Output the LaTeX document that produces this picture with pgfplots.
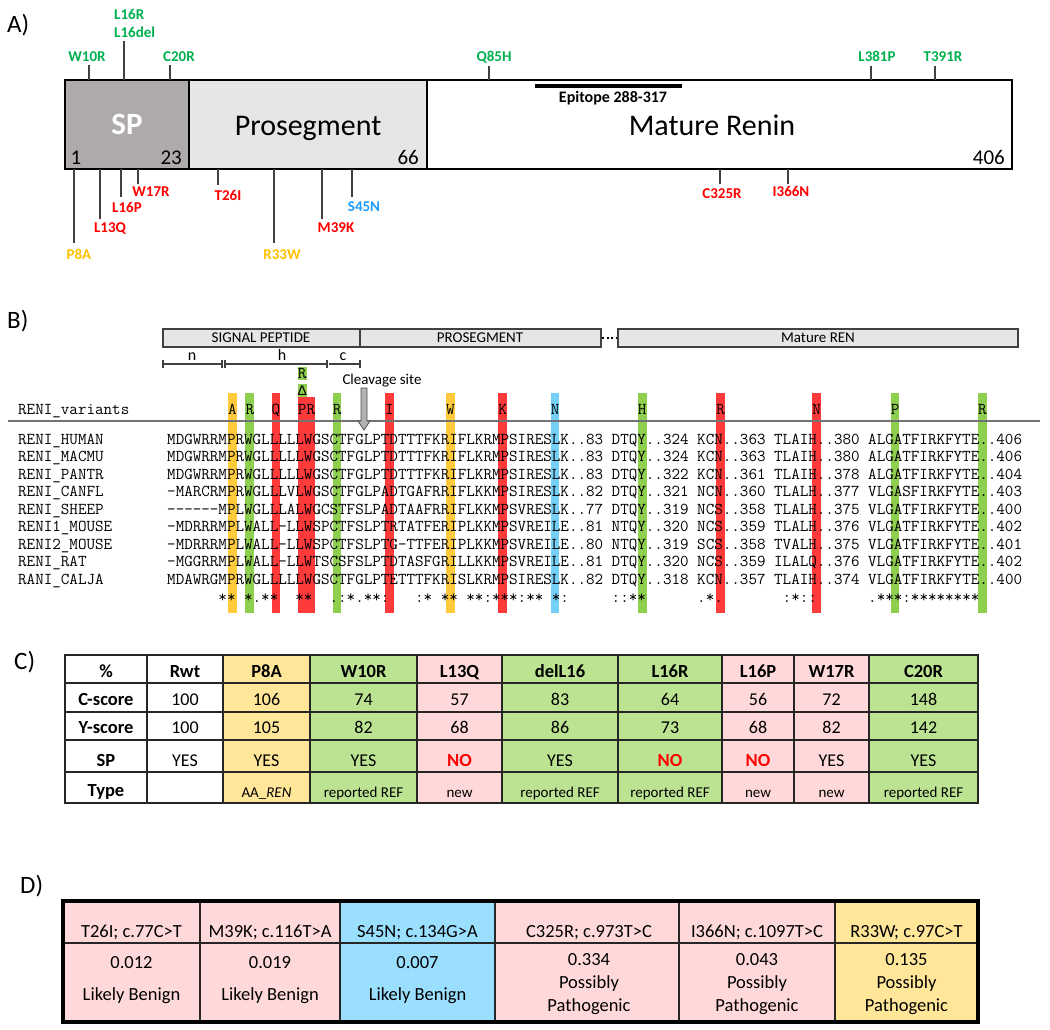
\documentclass[border=0pt]{standalone}
\usepackage{pgfplots}
\pgfplotsset{compat=1.18}
\usepackage{fontspec}
\setmainfont{Carlito}
\newfontfamily\monoL{Liberation Mono}
\newcommand{\mono}{\ttfamily\addfontfeatures{FakeBold=0.6}}
\definecolor{mgreen}{HTML}{00B050}
\definecolor{mred}{HTML}{FF0000}
\definecolor{morange}{HTML}{FFC000}
\definecolor{mblue}{HTML}{1E9BFF}
\definecolor{spgray}{HTML}{AEAAAA}
\definecolor{progray}{HTML}{E7E6E6}
\definecolor{hlor}{HTML}{FFCB3A}
\definecolor{hlgr}{HTML}{8FCF4F}
\definecolor{hlrd}{HTML}{FF3A3A}
\definecolor{hlbl}{HTML}{74D0F6}
\definecolor{cyel}{HTML}{FFE699}
\definecolor{cgrn}{HTML}{BBE391}
\definecolor{cpink}{HTML}{FFD9D9}
\definecolor{cblue}{HTML}{9BDFFF}
\newcommand{\fs}[1]{\fontsize{#1}{#1}\selectfont}
\newcommand{\ms}{16.6}
\newcommand{\dsh}{-\kern0pt}
\newcommand{\T}[5][]{\node[anchor=base,inner sep=0pt,font=\fs{#4},#1] at ({#2},{#3+0.322*#4}) {#5};}
\newcommand{\up}[2]{\draw[line width=1.3pt,black!75] (#1,#2)--(#1,80);}
\newcommand{\dn}[2]{\draw[line width=1.3pt,black!75] (#1,169)--(#1,#2);}
\newcommand{\hl}[3]{\fill[#2] ({167+#1*8.72},393) rectangle ({167+(#1+1)*8.72},613);
  \node[anchor=base,inner sep=0pt,font=\fs{\ms}\mono] at ({167+(#1+0.5)*8.72},414) {#3};}
\newcommand{\row}[3]{\node[anchor=base west,inner sep=0pt,font=\fs{\ms}\mono] at (18,{444+#1*17.5}) {#2};
  \node[anchor=base west,inner sep=0pt,font=\fs{\ms}\mono] at (167,{444+#1*17.5}) {#3};}
\begin{document}
\begin{tikzpicture}
\begin{axis}[scale only axis, width=1050pt, height=1029pt, xmin=0, xmax=1050, ymin=0, ymax=1029,
  y dir=reverse, hide axis, clip=false]
\path (0,0) rectangle (1050,1029);
% ---------------- Panel A
\T[anchor=base west]{7}{24}{25}{A)}
\draw[line width=2.5pt, fill=spgray] (65,80) rectangle (189,169);
\draw[line width=2.5pt, fill=progray] (189,80) rectangle (427,169);
\draw[line width=2.5pt, fill=white] (427,80) rectangle (1012,169);
\T[text=white]{127}{125}{31}{\bfseries SP}
\T{308}{126}{30}{Prosegment}
\T{712}{126}{30}{Mature Renin}
\T{76}{158}{21}{1}
\T[anchor=base east]{182}{158}{21}{23}
\T[anchor=base east]{419}{158}{21}{66}
\T[anchor=base east]{1005}{158}{21}{406}
\draw[line width=4pt] (535,86)--(682,86);
\T{613}{97}{16}{\bfseries Epitope 288-317}
\up{89}{65}\up{124}{41}\up{170}{65}\up{489}{66}\up{871}{66}\up{935}{66}
\T[text=mgreen]{87}{57}{15}{\bfseries W10R}
\T[text=mgreen,anchor=base west]{114}{14.5}{15}{\bfseries L16R}
\T[text=mgreen,anchor=base west]{114}{33}{15}{\bfseries L16del}
\T[text=mgreen]{179}{57}{15}{\bfseries C20R}
\T[text=mgreen]{494}{57}{15}{\bfseries Q85H}
\T[text=mgreen]{877}{57}{15}{\bfseries L381P}
\T[text=mgreen]{943}{57}{15}{\bfseries T391R}
\dn{74}{243}\dn{100}{219}\dn{121}{197}\dn{138}{184}\dn{218}{185}\dn{274}{243}\dn{322}{219}\dn{352}{197}\dn{720}{184}\dn{788}{184}
\T[text=morange]{79}{255}{15}{\bfseries P8A}
\T[text=mred]{110}{228}{15}{\bfseries L13Q}
\T[text=mred]{127}{208}{15}{\bfseries L16P}
\T[text=mred]{151}{192}{15}{\bfseries W17R}
\T[text=mred]{228}{196}{15}{\bfseries T26I}
\T[text=morange]{282}{255}{15}{\bfseries R33W}
\T[text=mred]{336}{228}{15}{\bfseries M39K}
\T[text=mblue]{364}{207}{15}{\bfseries S45N}
\T[text=mred]{722}{194}{15}{\bfseries C325R}
\T[text=mred]{791}{192}{15}{\bfseries I366N}
% ---------------- Panel B
\T[anchor=base west]{7}{320}{25}{B)}
\draw[line width=1.3pt, draw=black!75, fill=progray] (163,329) rectangle (360,347);
\draw[line width=1.3pt, draw=black!75, fill=progray] (360,329) rectangle (601,347);
\draw[line width=2pt, dash pattern=on 2pt off 2.5pt] (602,338)--(618,338);
\draw[line width=1.3pt, draw=black!75, fill=progray] (618,329) rectangle (1018,347);
\T{261}{338}{15}{SIGNAL PEPTIDE}
\T{480}{338}{15}{PROSEGMENT}
\T{818}{338}{15}{Mature REN}
\draw[line width=1.1pt, black!75] (163,364)--(222,364) (163,360)--(163,368) (222,360)--(222,368);
\draw[line width=1.1pt, black!75] (225,364)--(326,364) (225,360)--(225,368);
\draw[line width=2.5pt, black!75] (327,360)--(327,368);
\draw[line width=1.1pt, black!75] (329,364)--(360,364) (360,360)--(360,368);
\T{192}{355}{16}{n}
\T{282}{355}{16}{h}
\T{343}{355}{16}{c}
\T{382}{380}{15}{Cleavage site}
% highlights
\hl{7}{hlor}{A}
\hl{9}{hlgr}{R}
\hl{12}{hlrd}{Q}
\hl{19}{hlgr}{R}
\hl{25}{hlrd}{I}
\hl{32}{hlor}{W}
\hl{38}{hlrd}{K}
\hl{44}{hlbl}{N}
\hl{54}{hlgr}{H}
\hl{63}{hlrd}{R}
\hl{74}{hlrd}{N}
\hl{83}{hlgr}{P}
\hl{93}{hlgr}{R}
\fill[hlrd] ({167+15*8.72},397) rectangle ({167+17*8.72},613);
\node[anchor=base,inner sep=0pt,font=\fs{\ms}\mono] at ({167+16*8.72},414) {PR};
\fill[hlgr] ({167+15*8.72},367) rectangle ({167+16*8.72},380);
\node[anchor=base,inner sep=0pt,font=\fs{\ms}\mono] at ({167+15.5*8.72},378.5) {R};
\fill[hlgr] ({167+15*8.72},384) rectangle ({167+16*8.72},397);
\node[anchor=base,inner sep=0pt,font=\monoL\fs{14.5}] at ({167+15.5*8.72},395.2) {Δ};
\node[anchor=base west,inner sep=0pt,font=\fs{\ms}\mono] at (18,414) {RENI\_variants};
\draw[line width=1.5pt, black!55] (8,421)--(1040,421);
\draw[line width=0.8pt, draw=black!70, fill=black!30] (361,388)--(367,388)--(367,421)--(370,421)--(364,430)--(358,421)--(361,421)--cycle;
\row{0}{RENI\_HUMAN}{MDGWRRMPRWGLLLLLWGSCTFGLPTDTTTFKRIFLKRMPSIRESLK..83 DTQY..324 KCN..363 TLAIH..380 ALGATFIRKFYTE..406}
\row{1}{RENI\_MACMU}{MDGWRRMPRWGLLLLLWGSCTFGLPTDTTTFKRIFLKRMPSIRESLK..83 DTQY..324 KCN..363 TLAIH..380 ALGATFIRKFYTE..406}
\row{2}{RENI\_PANTR}{MDGWRRMPRWGLLLLLWGSCTFGLPTDTTTFKRIFLKRMPSIRESLK..83 DTQY..322 KCN..361 TLAIH..378 ALGATFIRKFYTE..404}
\row{3}{RENI\_CANFL}{\dsh MARCRMPRWGLLLVLWGSCTFGLPADTGAFRRIFLKKMPSIRESLK..82 DTQY..321 NCN..360 TLALH..377 VLGASFIRKFYTE..403}
\row{4}{RENI\_SHEEP}{\dsh\dsh\dsh\dsh\dsh\dsh MPLWGLLLALWGCSTFSLPADTAAFRRIFLKKMPSVRESLK..77 DTQY..319 NCS..358 TLALH..375 VLGATFIRKFYTE..400}
\row{5}{RENI1\_MOUSE}{\dsh MDRRRMPLWALL\dsh LLWSPCTFSLPTRTATFERIPLKKMPSVREILE..81 NTQY..320 NCS..359 TLALH..376 VLGATFIRKFYTE..402}
\row{6}{RENI2\_MOUSE}{\dsh MDRRRMPLWALL\dsh LLWSPCTFSLPTG\dsh TTFERIPLKKMPSVREILE..80 NTQY..319 SCS..358 TVALH..375 VLGATFIRKFYTE..401}
\row{7}{RENI\_RAT}{\dsh MGGRRMPLWALL\dsh LLWTSCSFSLPTDTASFGRILLKKMPSVREILE..81 DTQY..320 NCS..359 ILALQ..376 VLGATFIRKFYTE..402}
\row{8}{RANI\_CALJA}{MDAWRGMPRWGLLLLLWGSCTFGLPTETTTFKRISLKRMPSIRESLK..82 DTQY..318 KCN..357 TLAIH..374 VLGATFIRKFYTE..400}
\node[anchor=base west,inner sep=0pt,font=\fs{\ms}\mono] at (167,602) {~~~~~~**~*.**~~**~~.:*.**:~~~:*~**~**:***:**~*:~~~~~::**~~~~~~.*.~~~~~~~:*::~~~~~~.***:********};
% ---------------- Panel C
\T[anchor=base west]{14}{661}{25}{C)}
\fill[cyel] (223,655) rectangle (310,803);
\fill[cgrn] (310,655) rectangle (417,803);
\fill[cpink] (417,655) rectangle (502,803);
\fill[cgrn] (502,655) rectangle (722,803);
\fill[cpink] (722,655) rectangle (869,803);
\fill[cgrn] (869,655) rectangle (978,803);
\draw[line width=2pt, black!85] (65,683)--(978,683) (65,712)--(978,712) (65,740)--(978,740) (65,772)--(978,772);
\draw[line width=2pt, black!85] (147,655)--(147,803) (223,655)--(223,803) (310,655)--(310,803) (417,655)--(417,803)
  (502,655)--(502,803) (618,655)--(618,803) (722,655)--(722,803) (794,655)--(794,803) (869,655)--(869,803);
\draw[line width=2.2pt, black!85] (65,655) rectangle (978,803);
\T{106}{672}{18.5}{\bfseries \%}
\T{185}{672}{18.5}{\bfseries Rwt}
\T{266.5}{672}{18.5}{\bfseries P8A}
\T{363.5}{672}{18.5}{\bfseries W10R}
\T{459.5}{672}{18.5}{\bfseries L13Q}
\T{560}{672}{18.5}{\bfseries delL16}
\T{670}{672}{18.5}{\bfseries L16R}
\T{758}{672}{18.5}{\bfseries L16P}
\T{831.5}{672}{18.5}{\bfseries W17R}
\T{923.5}{672}{18.5}{\bfseries C20R}
\T{106}{700}{18.5}{\bfseries C-score}
\T{185}{700}{18}{100}
\T{266.5}{700}{18}{106}
\T{363.5}{700}{18}{74}
\T{459.5}{700}{18}{57}
\T{560}{700}{18}{83}
\T{670}{700}{18}{64}
\T{758}{700}{18}{56}
\T{831.5}{700}{18}{72}
\T{923.5}{700}{18}{148}
\T{106}{728}{18.5}{\bfseries Y-score}
\T{185}{728}{18}{100}
\T{266.5}{728}{18}{105}
\T{363.5}{728}{18}{82}
\T{459.5}{728}{18}{68}
\T{560}{728}{18}{86}
\T{670}{728}{18}{73}
\T{758}{728}{18}{68}
\T{831.5}{728}{18}{82}
\T{923.5}{728}{18}{142}
\T{106}{761}{18.5}{\bfseries SP}
\T{185}{761}{18}{YES}
\T{266.5}{761}{18}{YES}
\T{363.5}{761}{18}{YES}
\T[text=mred]{459.5}{761}{18.5}{\bfseries NO}
\T{560}{761}{18}{YES}
\T[text=mred]{670}{761}{18.5}{\bfseries NO}
\T[text=mred]{758}{761}{18.5}{\bfseries NO}
\T{831.5}{761}{18}{YES}
\T{923.5}{761}{18}{YES}
\T{106}{791}{18.5}{\bfseries Type}
\T{266.5}{793}{15}{AA\_\textit{REN}}
\T{363.5}{793}{15}{reported REF}
\T{459.5}{793}{15}{new}
\T{560}{793}{15}{reported REF}
\T{670}{793}{15}{reported REF}
\T{758}{793}{15}{new}
\T{831.5}{793}{15}{new}
\T{923.5}{793}{15}{reported REF}
% ---------------- Panel D
\T[anchor=base west]{20}{885}{25}{D)}
\fill[cpink] (63,901) rectangle (340,1022);
\fill[cblue] (340,901) rectangle (495,1022);
\fill[cpink] (495,901) rectangle (835,1022);
\fill[cyel] (835,901) rectangle (978,1022);
\draw[line width=2pt, black!85] (63,943)--(978,943) (200,901)--(200,1022) (340,901)--(340,1022)
  (495,901)--(495,1022) (679,901)--(679,1022) (835,901)--(835,1022);
\draw[line width=3.5pt] (63,901) rectangle (978,1022);
\T{131.5}{931.5}{18.5}{T26I; c.77C>T}
\T{270}{931.5}{18.5}{M39K; c.116T>A}
\T{417.5}{931.5}{18.5}{S45N; c.134G>A}
\T{589}{931.5}{18.5}{C325R; c.973T>C}
\T{757}{931.5}{18.5}{I366N; c.1097T>C}
\T{906.5}{931.5}{18.5}{R33W; c.97C>T}
\T{131.5}{962.5}{18.5}{0.012}
\T{131.5}{994.5}{18.5}{Likely Benign}
\T{270}{962.5}{18.5}{0.019}
\T{270}{994.5}{18.5}{Likely Benign}
\T{417.5}{962.5}{18.5}{0.007}
\T{417.5}{994.5}{18.5}{Likely Benign}
\T{589}{960}{18.5}{0.334}
\T{589}{983}{18.5}{Possibly}
\T{589}{1006}{18.5}{Pathogenic}
\T{757}{960}{18.5}{0.043}
\T{757}{983}{18.5}{Possibly}
\T{757}{1006}{18.5}{Pathogenic}
\T{906.5}{960}{18.5}{0.135}
\T{906.5}{983}{18.5}{Possibly}
\T{906.5}{1006}{18.5}{Pathogenic}
\end{axis}
\end{tikzpicture}
\end{document}
